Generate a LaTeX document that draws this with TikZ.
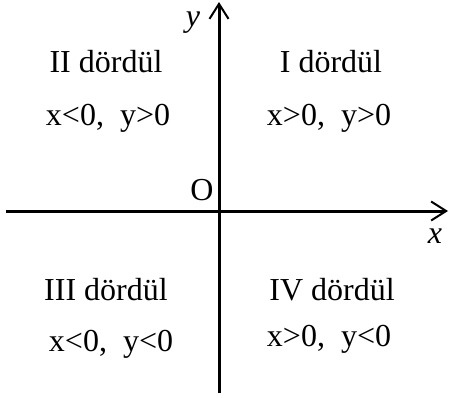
\documentclass[tikz,border=0pt]{standalone}
\usepackage{fontspec}
\setmainfont{Liberation Serif}
\usetikzlibrary{arrows.meta}
\begin{document}
\begin{tikzpicture}[x=1pt,y=-1pt,
  axis/.style={line width=3pt,-{Straight Barb[length=15pt,width=19pt,line width=2pt]}},
  lbl/.style={inner sep=0pt,anchor=base,font=\fontsize{32}{38}\selectfont},
  axlbl/.style={inner sep=0pt,font=\fontsize{32}{38}\selectfont\itshape}]
\useasboundingbox (0,0) rectangle (449,397);
\coordinate (xs) at (6,211);
\coordinate (xe) at (448,211);
\coordinate (ys) at (219,393);
\coordinate (ye) at (219,2);
\draw[axis] (xs) -- (xe);
\draw[axis] (ys) -- (ye);
\node[axlbl] (ylab) at (193,23) {y};
\node[axlbl] (xlab) at (435,236) {x};
\node[lbl] (O) at (202,200) {O};
\node[lbl] (q2) at (106,72) {II dördül};
\node[lbl] (q1) at (331,72) {I dördül};
\node[lbl] (c2) at (108,125) {x<0,\ \ y>0};
\node[lbl] (c1) at (329,125) {x>0,\ \ y>0};
\node[lbl] (q3) at (106,300) {III dördül};
\node[lbl] (q4) at (332,300) {IV dördül};
\node[lbl] (c3) at (111,351) {x<0,\ \ y<0};
\node[lbl] (c4) at (329,346) {x>0,\ \ y<0};
\end{tikzpicture}
\end{document}
